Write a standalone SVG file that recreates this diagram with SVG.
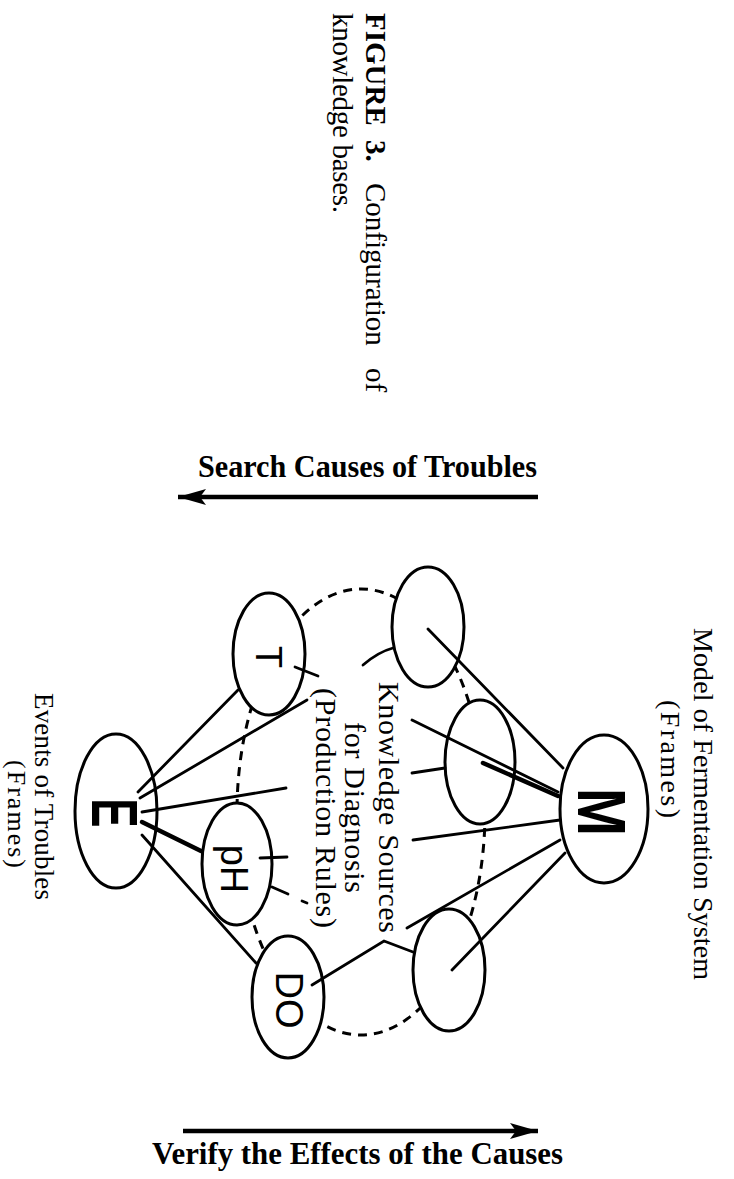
<svg xmlns="http://www.w3.org/2000/svg" width="734" height="1179" viewBox="0 0 734 1179">
<style>
.node{fill:#fff;stroke:#000;stroke-width:3}
.ln{stroke:#000;stroke-width:2.8;fill:none;stroke-linecap:round}
.heavy{stroke-width:4.5}
.dash{stroke:#000;stroke-width:3;fill:none;stroke-dasharray:9 7}
.arr{stroke:#000;stroke-width:4.5;fill:none}
.serif{font-family:"Liberation Serif","Times New Roman",serif;fill:#000}
.sans{font-family:"Liberation Sans",Arial,sans-serif;fill:#000}
</style>
<defs>
<marker id="ah" markerUnits="userSpaceOnUse" markerWidth="30" markerHeight="20" refX="28" refY="9" orient="auto">
<path d="M0,1 L28,9 L0,17 L6,9 Z" fill="#000"/>
</marker>
</defs>
<rect width="734" height="1179" fill="#fff"/>

<!-- caption -->
<text class="serif" font-size="29" transform="translate(366,0) rotate(90)"><tspan x="13" font-weight="bold">FIGURE</tspan><tspan x="140" font-weight="bold">3.</tspan><tspan x="183">Configuration</tspan><tspan x="368">of</tspan></text>
<text class="serif" font-size="29" transform="translate(333,13) rotate(90)" textLength="200">knowledge bases.</text>

<!-- dashed knowledge-source ring -->
<ellipse class="dash" cx="361" cy="812" rx="124" ry="223"/>

<g id="node-E"><ellipse class="node" cx="116" cy="811" rx="41" ry="77"/>
<text class="sans" font-size="44" font-weight="bold" text-anchor="middle" transform="translate(92,813) rotate(90) scale(1,1.46)">E</text></g>
<g id="node-T"><ellipse class="node" cx="269" cy="654" rx="36" ry="61"/>
<text class="sans" font-size="36" text-anchor="middle" transform="translate(256,657) rotate(90)">T</text></g>
<g id="node-pH"><ellipse class="node" cx="237" cy="864" rx="35" ry="61"/>
<text class="sans" font-size="38" text-anchor="middle" transform="translate(221,869) rotate(90)">pH</text></g>
<g id="node-DO"><ellipse class="node" cx="288" cy="997" rx="36" ry="61"/>
<text class="sans" font-size="38" text-anchor="middle" transform="translate(276,1000) rotate(90)">DO</text></g>
<g id="node-KS1"><ellipse class="node" cx="428" cy="627" rx="36" ry="60"/></g>
<g id="node-KS2"><ellipse class="node" cx="480" cy="762" rx="35" ry="62"/></g>
<g id="node-KS3"><ellipse class="node" cx="449" cy="970" rx="36" ry="61"/></g>
<g id="node-M"><ellipse class="node" cx="604" cy="809" rx="44" ry="74"/>
<text class="sans" font-size="58" font-weight="bold" text-anchor="middle" transform="translate(578,812) rotate(90) scale(1,1.18)">M</text></g>

<g id="connectors">
<path class="ln" d="M138,792 L238,690"/>
<path class="ln" d="M140,798 L307,700"/>
<path class="ln" d="M142,812 L286,788"/>
<path class="ln heavy" d="M142,822 L201,851"/>
<path class="ln" d="M142,835 L256,963"/>
<path class="ln" d="M295,667 L318,676"/>
<path class="ln" d="M260,858 L287,857"/>
<path class="ln" d="M272,887 L288,894"/>
<path class="ln" d="M302,901 L307,903"/>
<path class="ln" d="M363,665 Q378,652 393,648"/>
<path class="ln" d="M428,629 L563,768"/>
<path class="ln" d="M412,720 L558,792"/>
<path class="ln heavy" d="M483,763 L558,796"/>
<path class="ln" d="M412,773 L445,768"/>
<path class="ln" d="M413,840 L560,820"/>
<path class="ln" d="M407,928 L560,840"/>
<path class="ln" d="M452,970 L565,853"/>
<path class="ln" d="M312,985 L384,941 L413,952"/>
<path class="arr" d="M538,497 L178,497" marker-end="url(#ah)"/>
<path class="arr" d="M183,1131 L538,1131" marker-end="url(#ah)"/>
</g>

<!-- labels -->
<text class="serif" font-size="31" font-weight="bold" x="198" y="477" textLength="339" lengthAdjust="spacingAndGlyphs">Search Causes of Troubles</text>
<text class="serif" font-size="31" font-weight="bold" x="152" y="1164" textLength="411" lengthAdjust="spacingAndGlyphs">Verify the Effects of the Causes</text>

<text class="serif" font-size="30" transform="translate(379,682) rotate(90)" textLength="251">Knowledge Sources</text>
<text class="serif" font-size="30" transform="translate(345,722) rotate(90)" textLength="171">for Diagnosis</text>
<text class="serif" font-size="30" transform="translate(316,688) rotate(90)" textLength="240">(Production Rules)</text>

<text class="serif" font-size="27" transform="translate(35,693) rotate(90)" textLength="207">Events of Troubles</text>
<text class="serif" font-size="26" transform="translate(8,760) rotate(90)" textLength="108">(Frames)</text>

<text class="serif" font-size="28" transform="translate(694,628) rotate(90)" textLength="352">Model of Fermentation System</text>
<text class="serif" font-size="28" transform="translate(661,700) rotate(90)" textLength="118">(Frames)</text>
</svg>
